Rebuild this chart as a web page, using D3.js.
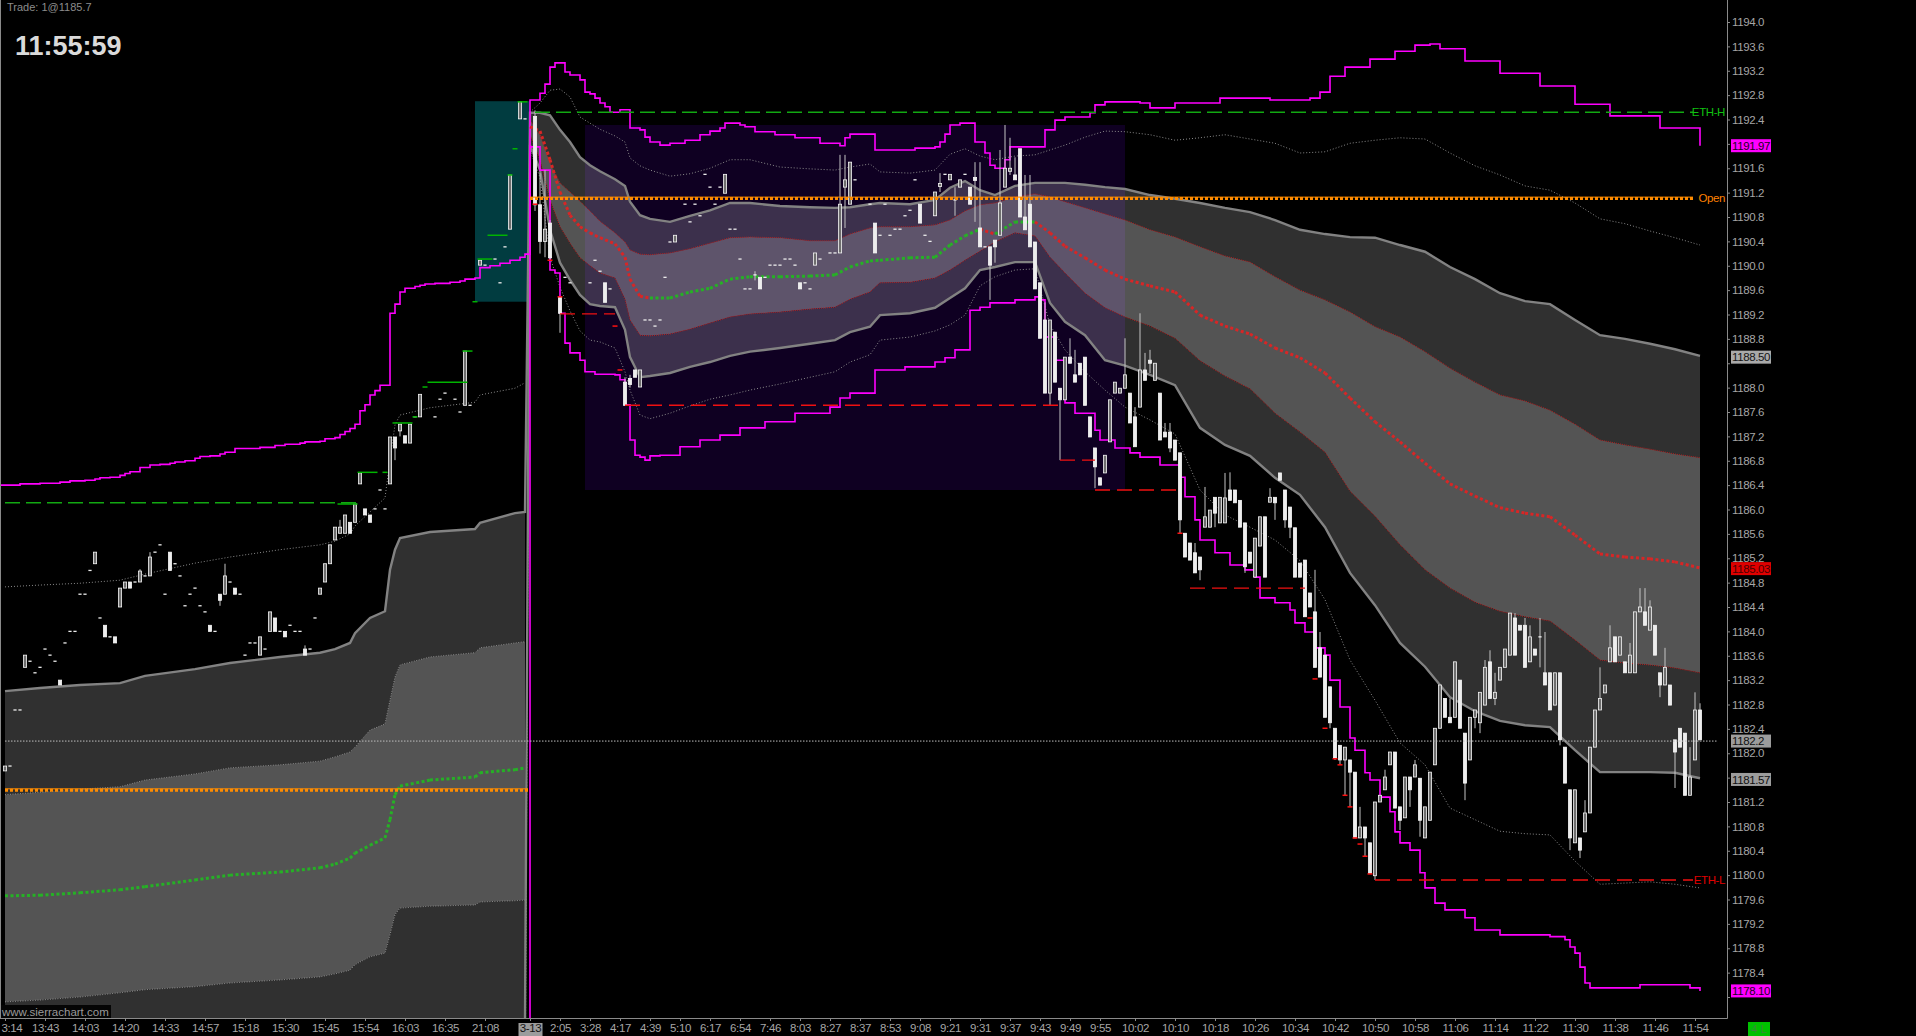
<!DOCTYPE html>
<html><head><meta charset="utf-8">
<script src="https://cdn.jsdelivr.net/npm/d3@7"></script>
<style>
html,body{margin:0;padding:0;background:#000;overflow:hidden}
svg{display:block}
</style></head><body>
<svg id="c" width="1916" height="1036"></svg>
<script>
// ---------------- DATA ----------------
// session 1 (prior day) band samples: bar index + price
const s1Idx   = [1,8,16,24,29,39,46,56,64,67,70,71,74,77,78,79,80,86,95,96,103,105];
const s1Sd3Up = [1184.73,1184.76,1184.79,1184.84,1184.94,1185.12,1185.22,1185.34,1185.42,1185.48,1185.60,1185.73,1185.96,1186.19,1186.81,1187.39,1187.55,1187.67,1187.76,1187.88,1187.99,1188.08];
const s1Sd2Up = [1183.02,1183.07,1183.12,1183.15,1183.27,1183.38,1183.48,1183.58,1183.65,1183.71,1183.81,1183.97,1184.22,1184.33,1185.01,1185.34,1185.53,1185.63,1185.68,1185.78,1185.94,1185.96];
const s1Sd1Up = [1181.32,1181.36,1181.41,1181.45,1181.56,1181.66,1181.76,1181.81,1181.87,1181.94,1182.02,1182.10,1182.38,1182.48,1182.87,1183.25,1183.45,1183.58,1183.65,1183.73,1183.81,1183.83];
const s1Vwap  = [1179.66,1179.67,1179.71,1179.76,1179.81,1179.92,1180.00,1180.05,1180.12,1180.18,1180.28,1180.36,1180.49,1180.61,1180.91,1181.32,1181.46,1181.56,1181.61,1181.68,1181.73,1181.76];
const s1Sd1Lo = [1177.92,1177.95,1178.00,1178.07,1178.12,1178.17,1178.23,1178.28,1178.33,1178.38,1178.44,1178.53,1178.66,1178.72,1179.02,1179.35,1179.46,1179.49,1179.51,1179.56,1179.58,1179.59];
const s1Sd2Lo = [1176.30,1176.30,1176.32,1176.36,1176.38,1176.45,1176.52,1176.55,1176.60,1176.65,1176.74,1176.80,1176.92,1177.00,1177.20,1177.30,1177.38,1177.48,1177.52,1177.55,1177.55,1177.56];
const s1EndSd3Lo = 1175.8, s1EndMagLo = 1175.0;   // below the visible range

// session 2 band samples
const s2Idx   = [106,108,110,112,114,116,118,120,123,125,126,128,130,134,138,142,146,150,156,162,167,170,174,176,182,187,190,193,196,199,203,207,210,213,217,221,225,230,235,240,245,250,255,260,265,270,275,280,285,290,295,300,305,310,315,320,325,330,335,340];
const s2Sd3Up = [1192.52,1192.67,1192.88,1192.90,1192.77,1192.44,1192.34,1192.24,1192.13,1192.03,1191.77,1191.64,1191.57,1191.47,1191.51,1191.60,1191.74,1191.74,1191.62,1191.59,1191.57,1191.62,1191.67,1191.54,1191.52,1191.57,1191.83,1191.92,1191.80,1191.74,1191.80,1191.82,1191.90,1191.98,1192.11,1192.21,1192.20,1192.15,1192.06,1192.10,1192.15,1192.08,1192.01,1191.85,1191.87,1192.01,1192.06,1192.10,1192.08,1191.85,1191.64,1191.49,1191.31,1191.24,1191.03,1190.77,1190.69,1190.57,1190.46,1190.34];
const s2Sd2Up = [1192.51,1192.51,1192.47,1192.23,1192.03,1191.78,1191.65,1191.55,1191.42,1191.31,1191.05,1190.83,1190.77,1190.72,1190.82,1190.91,1191.03,1191.03,1190.98,1190.96,1190.95,1190.96,1191.01,1191.03,1191.01,1191.08,1191.28,1191.39,1191.24,1191.16,1191.31,1191.36,1191.36,1191.36,1191.33,1191.29,1191.26,1191.16,1191.10,1191.03,1190.95,1190.88,1190.75,1190.59,1190.52,1190.47,1190.46,1190.34,1190.23,1189.98,1189.78,1189.55,1189.42,1189.37,1189.11,1188.86,1188.80,1188.72,1188.63,1188.52];
const s2Sd1Up = [1192.39,1192.15,1191.69,1191.36,1191.21,1191.06,1190.90,1190.73,1190.54,1190.39,1190.26,1190.19,1190.18,1190.21,1190.28,1190.37,1190.46,1190.47,1190.46,1190.41,1190.41,1190.52,1190.62,1190.64,1190.64,1190.67,1190.75,1190.90,1191.00,1191.03,1191.13,1191.18,1191.13,1191.05,1190.95,1190.85,1190.75,1190.59,1190.47,1190.31,1190.16,1190.06,1189.82,1189.60,1189.44,1189.24,1189.00,1188.83,1188.59,1188.32,1188.09,1187.88,1187.78,1187.63,1187.40,1187.14,1187.06,1186.99,1186.91,1186.85];
const s2Vwap  = [1192.28,1192.21,1191.74,1191.21,1190.83,1190.64,1190.54,1190.46,1190.36,1190.14,1189.78,1189.50,1189.47,1189.47,1189.57,1189.63,1189.78,1189.82,1189.82,1189.83,1189.85,1189.98,1190.08,1190.09,1190.13,1190.14,1190.34,1190.49,1190.60,1190.52,1190.72,1190.72,1190.54,1190.32,1190.13,1189.93,1189.78,1189.67,1189.57,1189.19,1189.01,1188.88,1188.65,1188.49,1188.24,1187.83,1187.44,1187.11,1186.76,1186.42,1186.22,1186.03,1185.94,1185.88,1185.58,1185.27,1185.22,1185.19,1185.14,1185.04];
const s2Sd1Lo = [1192.15,1191.74,1191.08,1190.64,1190.37,1190.13,1190.00,1189.88,1189.80,1189.45,1189.11,1188.86,1188.85,1188.88,1188.96,1189.06,1189.16,1189.21,1189.24,1189.29,1189.32,1189.45,1189.57,1189.72,1189.73,1189.80,1189.93,1190.09,1190.24,1190.39,1190.54,1190.49,1190.14,1189.88,1189.55,1189.31,1189.16,1189.01,1188.81,1188.44,1188.19,1187.98,1187.58,1187.27,1186.94,1186.30,1185.89,1185.42,1185.01,1184.71,1184.48,1184.33,1184.24,1184.17,1183.86,1183.53,1183.48,1183.45,1183.40,1183.32];
const s2Sd2Lo = [1191.98,1191.57,1190.59,1190.05,1189.77,1189.52,1189.37,1189.34,1189.32,1188.95,1188.50,1188.17,1188.19,1188.24,1188.34,1188.42,1188.52,1188.59,1188.65,1188.72,1188.78,1188.91,1189.00,1189.19,1189.22,1189.31,1189.47,1189.63,1189.93,1189.98,1190.06,1190.06,1189.39,1189.08,1188.86,1188.45,1188.36,1188.21,1188.04,1187.34,1187.06,1186.88,1186.52,1186.24,1185.71,1184.96,1184.43,1183.81,1183.42,1182.92,1182.69,1182.53,1182.46,1182.43,1182.05,1181.69,1181.69,1181.69,1181.68,1181.59];
const s2Sd3Lo = [1191.90,1191.45,1190.14,1189.65,1189.26,1188.93,1188.78,1188.75,1188.65,1188.26,1187.96,1187.55,1187.49,1187.58,1187.70,1187.81,1187.88,1187.96,1188.06,1188.17,1188.26,1188.42,1188.54,1188.78,1188.83,1188.93,1189.03,1189.19,1189.67,1189.82,1189.93,1189.95,1189.03,1188.62,1188.26,1187.96,1187.68,1187.47,1187.24,1186.32,1185.91,1185.71,1185.50,1185.16,1184.52,1183.53,1182.87,1182.17,1181.81,1181.10,1180.91,1180.72,1180.68,1180.66,1180.23,1179.85,1179.87,1179.89,1179.85,1179.79];

// magenta outer envelopes (step lines): [bar, price]
const magUp1 = [[0,1186.40],[4,1186.42],[8,1186.43],[12,1186.45],[14,1186.47],[17,1186.48],[19,1186.50],[20,1186.52],[22,1186.53],[24,1186.56],[25,1186.59],[26,1186.62],[28,1186.69],[30,1186.73],[32,1186.74],[34,1186.76],[35,1186.78],[37,1186.80],[39,1186.84],[40,1186.87],[42,1186.88],[44,1186.91],[45,1186.94],[47,1187.00],[52,1187.02],[55,1187.05],[57,1187.07],[60,1187.09],[61,1187.11],[64,1187.12],[65,1187.16],[67,1187.18],[68,1187.23],[69,1187.28],[70,1187.33],[71,1187.40],[72,1187.62],[73,1187.72],[74,1187.88],[75,1187.95],[76,1188.04],[78,1189.22],[79,1189.37],[80,1189.57],[81,1189.63],[83,1189.66],[84,1189.68],[85,1189.70],[87,1189.71],[90,1189.73],[92,1189.75],[93,1189.78],[95,1189.80],[96,1189.97],[98,1190.00],[100,1190.04],[102,1190.09],[104,1190.14],[105,1190.19]];
const magUp2 = [[106,1192.72],[108,1192.83],[109,1192.98],[110,1193.26],[111,1193.33],[113,1193.18],[114,1193.13],[116,1193.05],[117,1192.85],[118,1192.82],[119,1192.75],[120,1192.67],[121,1192.61],[122,1192.52],[124,1192.56],[126,1192.26],[128,1192.23],[129,1192.11],[130,1192.03],[132,1191.98],[134,1192.01],[137,1192.06],[140,1192.15],[142,1192.21],[144,1192.26],[145,1192.34],[148,1192.31],[149,1192.28],[151,1192.20],[155,1192.15],[159,1192.10],[164,1192.01],[168,1191.97],[169,1192.10],[170,1192.16],[175,1191.90],[183,1191.93],[187,1191.95],[188,1192.03],[189,1192.16],[190,1192.31],[192,1192.34],[195,1192.03],[197,1191.85],[198,1191.65],[199,1191.60],[201,1191.74],[202,1191.95],[209,1192.23],[211,1192.39],[213,1192.44],[218,1192.51],[219,1192.64],[221,1192.69],[228,1192.67],[230,1192.59],[235,1192.67],[244,1192.75],[254,1192.72],[262,1192.75],[264,1192.85],[266,1193.11],[269,1193.26],[274,1193.39],[279,1193.52],[283,1193.62],[286,1193.64],[288,1193.56],[293,1193.36],[300,1193.16],[308,1192.95],[315,1192.65],[322,1192.46],[332,1192.26],[340,1191.97]];
const magLo2 = [[106,1191.95],[108,1191.57],[110,1189.93],[111,1189.88],[112,1189.22],[113,1188.73],[114,1188.57],[116,1188.45],[117,1188.26],[119,1188.22],[123,1188.21],[124,1188.13],[125,1187.72],[126,1187.14],[127,1186.89],[128,1186.86],[129,1186.81],[130,1186.88],[132,1186.89],[136,1187.03],[140,1187.14],[144,1187.22],[148,1187.34],[153,1187.44],[159,1187.58],[166,1187.68],[168,1187.83],[170,1187.91],[175,1188.29],[181,1188.34],[187,1188.42],[189,1188.49],[191,1188.62],[194,1189.27],[196,1189.32],[198,1189.39],[203,1189.44],[207,1189.49],[208,1189.44],[209,1188.83],[211,1188.45],[213,1187.75],[215,1187.58],[219,1187.30],[220,1187.14],[223,1187.01],[226,1186.93],[228,1186.86],[232,1186.73],[236,1186.53],[237,1186.21],[239,1185.83],[240,1185.50],[243,1185.29],[246,1185.09],[249,1185.01],[251,1184.89],[252,1184.55],[255,1184.47],[258,1184.35],[259,1184.14],[261,1183.99],[263,1183.73],[265,1183.61],[266,1183.20],[268,1182.76],[270,1182.25],[271,1182.05],[273,1181.68],[274,1181.56],[276,1181.28],[278,1181.04],[279,1180.71],[280,1180.53],[282,1180.41],[284,1180.04],[285,1179.79],[287,1179.54],[289,1179.43],[293,1179.30],[295,1179.10],[300,1179.02],[310,1178.99],[313,1178.94],[314,1178.82],[315,1178.72],[316,1178.49],[317,1178.23],[318,1178.15],[322,1178.15],[328,1178.20],[334,1178.20],[338,1178.15],[340,1178.10]];

// candles: [bar, price] = flat bar, [bar, open, close], or [bar, open, high, low, close]
const candles = [
[1,1181.71,1181.79],[2,1181.79],[3,1182.71],[4,1182.71],[5,1183.41,1183.61],[6,1183.51],[7,1183.32],[8,1183.41],[9,1183.71],[10,1183.61],[11,1183.51],[12,1183.20,1183.12],[13,1183.81],[14,1184.00],[15,1184.00],[16,1184.61],[17,1184.61],[18,1185.00],[19,1185.11,1185.30],[20,1184.22],[21,1184.10,1183.91],[22,1183.91],[23,1183.91,1183.81],[24,1184.40,1184.71],[25,1184.71,1184.81],[26,1184.81,1184.71],[27,1184.81],[28,1184.81,1185.02,1184.81,1184.99],[29,1184.91],[30,1184.91,1185.30,1184.91,1185.22],[31,1185.30],[32,1185.42],[33,1184.61],[34,1185.30,1185.00],[35,1185.11],[36,1184.91],[37,1184.42],[38,1184.61],[39,1184.71],[40,1184.42],[41,1184.32],[42,1184.10,1184.00],[43,1184.00],[44,1184.61,1184.61,1184.42,1184.51],[45,1184.61,1185.11,1184.61,1184.91],[46,1184.81],[47,1184.71,1184.61],[48,1184.61],[49,1183.61],[50,1183.81],[51,1183.81],[52,1183.61,1183.91],[53,1183.71],[54,1184.00,1184.32],[55,1184.22,1184.00],[56,1184.00],[57,1184.00,1183.91],[58,1184.10],[59,1184.00],[60,1184.00],[61,1183.71,1183.77,1183.61,1183.61],[62,1183.71],[63,1184.22],[64,1184.61,1184.71],[65,1184.81,1185.11],[66,1185.11,1185.42],[67,1185.50,1185.71],[68,1185.61,1185.83,1185.61,1185.71],[69,1185.61,1185.91],[70,1185.79,1185.61],[71,1185.79,1186.09],[72,1186.42,1186.60],[73,1186.01,1185.91],[74,1185.91,1185.79],[75,1186.01],[76,1186.32],[77,1186.01],[78,1186.42,1187.19],[79,1187.19,1187.19,1186.81,1187.01],[80,1187.29,1187.40,1187.20,1187.40],[81,1187.21,1187.09],[82,1187.09,1187.40],[83,1187.52],[84,1187.52,1187.89],[87,1187.52],[88,1187.81],[89,1187.91],[91,1187.81],[92,1187.60],[93,1187.71,1188.60],[94,1187.71],[96,1190.01,1190.09],[97,1190.01],[99,1190.11],[100,1189.72],[101,1190.31],[102,1190.60,1191.49],[104,1192.41,1192.69],[105,1192.41],
[107,1192.45,1192.55,1190.90,1191.00],[108,1191.00,1191.52,1190.20,1190.40],[109,1190.40,1191.57,1190.14,1190.60],[110,1190.70,1190.75,1190.09,1190.13],[112,1189.49,1189.49,1188.90,1189.22],[113,1189.81],[114,1189.72],[118,1189.72],[119,1190.09],[120,1189.91],[121,1189.72,1189.40],[122,1189.62],
[125,1188.09,1188.17,1187.71,1187.71],[126,1188.15,1188.21,1188.00,1188.05],[127,1188.29,1188.17],[128,1188.01,1188.29],[129,1189.11],[130,1189.11],[131,1189.01],[132,1189.11],[133,1189.81],[134,1190.39],[135,1190.39,1190.50],[137,1191.01],[138,1190.72],[139,1191.01],[140,1190.82],[141,1191.50],[142,1191.29],[143,1191.01],[144,1191.29],[145,1191.19,1191.50],[146,1190.60],[147,1190.60],[148,1190.11],[149,1189.62],[150,1189.62],[151,1189.85,1189.91,1189.76,1189.85],[152,1189.81,1189.62],[153,1189.81],[154,1190.01],[155,1190.01],[156,1190.01],[157,1190.11],[158,1190.11],[159,1190.01],[160,1189.72,1189.62],[161,1189.72],[162,1189.62],[163,1190.01,1190.21],[164,1190.11],[166,1190.21],[167,1190.21],[168,1190.21,1191.82,1190.21,1191.01],[169,1191.29,1191.82,1190.62,1191.41],[170,1191.01,1191.70],[171,1191.41],[174,1191.01],[175,1190.70,1190.21],[176,1190.50],[177,1191.01],[178,1190.50],[179,1190.60],[180,1190.60],[181,1190.82],[182,1190.91],[183,1191.41],[184,1191.01,1190.70],[185,1190.50],[186,1190.40],[187,1190.82,1191.21],[188,1191.30,1191.52,1191.21,1191.35],[189,1191.50],[190,1191.41,1191.50],[191,1191.08,1191.29,1190.82,1191.08],[192,1191.29,1191.41],[193,1191.50],[194,1191.29,1191.01],[195,1191.45,1191.70,1190.72,1191.40],[196,1190.62,1191.70,1190.31,1190.31],[197,1190.31],[198,1190.31,1190.31,1189.44,1190.01],[199,1190.42,1190.42,1190.05,1190.31],[200,1190.50,1191.90,1190.50,1191.03],[201,1191.29,1192.31,1191.29,1191.60],[202,1191.55,1192.10,1191.49,1191.60],[203,1191.49,1191.78,1191.41,1191.41],[204,1191.92,1190.80],[205,1190.80,1191.49,1190.59,1190.59],[206,1191.01,1191.49,1190.31,1190.31],[207,1190.39,1189.62],[208,1189.72,1188.81],[209,1189.11,1189.40,1187.91,1187.91],[210,1187.91,1189.11,1187.71,1189.11],[211,1188.91,1188.09],[212,1187.99,1187.99,1186.81,1187.80],[213,1187.80,1188.50],[214,1188.50,1188.81,1188.40,1188.40],[215,1188.21,1188.62,1188.09,1188.09],[216,1188.40,1188.21],[217,1188.50,1187.71],[218,1187.52,1187.19],[219,1187.01,1187.01,1186.35,1186.70],[220,1186.52,1186.40],[221,1186.60,1186.89],[222,1187.11,1187.80],[223,1187.91,1188.09],[224,1187.91,1187.99],[225,1187.99,1188.81,1187.99,1188.21],[226,1187.91,1187.42],[227,1187.52,1187.68,1187.03,1187.03],
[228,1187.68,1189.22,1187.68,1188.29],[229,1188.29,1188.57,1188.12,1188.12],[230,1188.45,1188.62,1188.24,1188.40],[231,1188.12,1188.40],[232,1187.91,1187.14],[233,1187.27,1187.42,1187.19,1187.19],[234,1187.27,1187.42,1186.94,1187.01],[235,1187.14,1186.81],[236,1186.93,1186.93,1185.61,1185.83],[237,1185.61,1185.22],[238,1185.45,1185.17],[239,1185.29,1185.45,1184.96,1184.96],[240,1185.22,1185.22,1184.84,1185.01],[241,1185.71,1186.37,1185.71,1185.88],[242,1185.71,1185.99],[243,1186.20,1186.20,1185.71,1185.94],[244,1185.78,1186.20],[245,1185.78,1186.60,1185.78,1186.19],[246,1186.32,1186.61,1186.15,1186.15],[247,1186.32,1186.11],[248,1186.15,1185.71],[249,1185.78,1185.78,1184.96,1185.06],[250,1185.30,1185.12],[251,1184.89,1185.53],[252,1185.40,1185.88],[253,1185.88,1184.89],[254,1186.12,1186.35,1186.12,1186.20],[255,1186.20,1186.20,1185.83,1186.11],[256,1186.60,1186.48],[257,1186.32,1186.32,1185.70,1185.83],[258,1186.04,1186.04,1185.53,1185.71],[259,1185.70,1184.89],[260,1185.12,1184.89],
[261,1185.17,1184.24],[262,1184.63,1184.40],[263,1184.32,1185.01,1183.41,1183.41],[264,1183.73,1183.99,1183.25,1183.25],[265,1183.61,1182.59],[266,1183.09,1183.09,1182.41,1182.50],[267,1182.41,1182.41,1181.89,1181.92],[268,1182.13,1182.13,1181.81,1181.89],[269,1181.89,1182.10,1181.31,1182.10],[270,1181.89,1181.89,1181.12,1181.69],[271,1181.69,1180.61],[272,1180.61,1181.12,1180.61,1180.79],[273,1180.79,1180.79,1180.30,1180.61],[274,1180.53,1180.03],[275,1179.99,1181.20,1179.92,1181.20],[276,1181.20,1181.31],[277,1181.40,1181.73,1181.40,1181.61],[278,1181.81,1182.02],[279,1182.02,1181.10],[280,1181.12,1181.12,1180.74,1180.90],[281,1180.94,1181.61],[282,1181.61,1181.61,1181.12,1181.40],[283,1181.61,1181.89,1181.61,1181.81],[284,1181.59,1181.59,1180.63,1180.90],[285,1180.61,1181.12],[286,1180.90,1181.69],[287,1181.81,1182.41],[288,1182.41,1183.12],[289,1182.90,1182.59],[290,1182.59,1182.90,1182.50,1182.50],[291,1182.59,1183.50],[292,1183.20,1182.41],[293,1182.33,1182.33,1181.23,1181.51],[294,1181.89,1182.59],[295,1182.59,1182.71,1182.41,1182.71],[296,1182.50,1183.00,1182.33,1183.00],[297,1182.79,1183.53,1182.79,1183.41],[298,1183.50,1183.69,1182.90,1182.90],[299,1182.90,1183.32,1182.79,1183.00],[300,1183.20,1183.41],[301,1183.41,1183.71],[302,1183.61,1184.30],[303,1184.22,1184.30,1183.61,1183.61],[304,1184.10,1184.02],[305,1184.10,1184.22,1183.41,1183.41],[306,1183.50,1184.10,1183.50,1183.91],[307,1183.71,1183.61],[308,1183.91,1184.22,1183.41,1183.91],[309,1183.32,1183.99,1183.12,1183.12],[310,1183.32,1182.71],[311,1182.79,1183.32],[312,1183.32,1183.32,1182.13,1182.22],[313,1182.10,1181.51],[314,1181.40,1181.40,1180.41,1180.61],[315,1180.53,1181.40],[316,1180.61,1180.61,1180.28,1180.41],[317,1180.71,1181.23,1180.71,1181.02],[318,1181.02,1182.10],[319,1182.10,1182.71],[320,1182.71,1183.41,1182.71,1182.90],[321,1182.99,1183.12],[322,1183.50,1184.10,1183.50,1183.73],[323,1183.91,1183.50],[324,1183.61,1183.91],[325,1183.50,1183.32],[326,1183.32,1183.81,1183.32,1183.61],[327,1183.32,1184.32],[328,1184.32,1184.71,1184.32,1184.40],[329,1184.32,1184.71,1184.10,1184.10],[330,1184.02,1184.51,1184.02,1184.40],[331,1184.10,1183.61],[332,1183.32,1183.32,1182.92,1183.12],[333,1183.12,1183.73,1183.12,1183.41],[334,1183.12,1182.79],[335,1182.22,1182.22,1181.43,1182.02],[336,1182.41,1182.10],[337,1182.33,1181.31],[338,1181.31,1182.10,1181.31,1181.61],[339,1181.89,1183.00,1181.89,1182.71],[340,1182.71,1182.82,1182.22,1182.22]
];

// short new-high (green) / new-low (red) markers
const greenMarks = [[68,71,1186.09],[72,75,1186.61],[77,77,1186.61],[79,82,1187.42],[83,83,1187.52],[85,85,1188.01],[86,93,1188.09],[93,94,1188.60],[95,95,1189.41],[96,98,1190.11],[98,101,1190.50],[102,102,1191.49],[103,103,1191.92],[104,105,1192.69]];
const redMarks = [[107,1191.01],[110,1190.09],[112,1189.49],[123,1189.01],[124,1188.29],[236,1185.61],[262,1184.22],[263,1183.22],[265,1182.41],[267,1181.91],[268,1181.81],[269,1181.31],[270,1181.12],[271,1180.61],[272,1180.51],[273,1180.31],[274,1180.02]];

// horizontal levels
const levelPrice = [1192.52,1191.11,1179.92,1182.20,1181.40,1186.11,1189.21,1187.71,1186.81,1186.32,1184.71];
const levelFrom  = [107,106,275,1,1,1,112,125,212,219,238];
const levelTo    = [338.6,338.6,338.6,343.6,105.6,71.4,123,212,219,236,261];
const levelKind  = ['green','orange','red','gray','orange','green','red','red','red','red','red'];
const levelLabel = ['ETH-H','Open','ETH-L','','','','','','','',''];

// shaded boxes: [bar from, bar to, price top, price bottom]
const tealBox   = [95,106,1192.70,1189.41];
const purpleBox = [117,225,1192.31,1186.32];

// axes
const yTickValues = [1178.0,1178.4,1178.8,1179.2,1179.6,1180.0,1180.4,1180.8,1181.2,1181.6,1182.0,1182.4,1182.8,1183.2,1183.6,1184.0,1184.4,1184.8,1185.2,1185.6,1186.0,1186.4,1186.8,1187.2,1187.6,1188.0,1188.4,1188.8,1189.2,1189.6,1190.0,1190.4,1190.8,1191.2,1191.6,1192.0,1192.4,1192.8,1193.2,1193.6,1194.0];
const xTickIdx  = [1,9,17,25,33,41,49,57,65,73,81,89,97,106,112,118,124,130,136,142,148,154,160,166,172,178,184,190,196,202,208,214,220,227,235,243,251,259,267,275,283,291,299,307,315,323,331,339];
const xTickText = ['3:14','13:43','14:03','14:20','14:33','14:57','15:18','15:30','15:45','15:54','16:03','16:35','21:08','3-13','2:05','3:28','4:17','4:39','5:10','6:17','6:54','7:46','8:03','8:27','8:37','8:53','9:08','9:21','9:31','9:37','9:43','9:49','9:55','10:02','10:10','10:18','10:26','10:34','10:42','10:50','10:58','11:06','11:14','11:22','11:30','11:38','11:46','11:54'];
const axisBoxPrice = [1191.97,1188.50,1185.03,1182.2,1181.57,1178.10];
const axisBoxText  = ['1191.97','1188.50','1185.03','1182.2','1181.57','1178.10'];
const axisBoxColor = ['#ff00ff','#a9a9a9','#e00000','#9c9c9c','#9c9c9c','#ff00ff'];
const axisBoxInk   = ['#1a001a','#151515','#4a0000','#101010','#101010','#1a001a'];

// ---------------- DRAW ----------------
const W=1916,H=1036, plotR=1727, plotB=1018;
const FONT="'Liberation Sans',Arial,sans-serif";
const FS='11.5px', LS='-0.4px';
const x=d3.scaleLinear().domain([0,340]).range([0,1700]);
const y=d3.scaleLinear().domain([1178,1194]).range([997,22]);
const svg=d3.select('#c');
svg.append('rect').attr('width',W).attr('height',H).attr('fill','#000');
svg.append('defs').append('clipPath').attr('id','plot').append('rect')
  .attr('x',0).attr('y',0).attr('width',plotR).attr('height',plotB);
const g=svg.append('g').attr('clip-path','url(#plot)');

function rows(idx,cols){return idx.map((i,k)=>{const o={i};for(const key in cols)o[key]=cols[key][k];return o;});}
const S1=rows(s1Idx,{a:s1Sd3Up,b:s1Sd2Up,c:s1Sd1Up,v:s1Vwap,d:s1Sd1Lo,e:s1Sd2Lo});
const S2=rows(s2Idx,{a:s2Sd3Up,b:s2Sd2Up,c:s2Sd1Up,v:s2Vwap,d:s2Sd1Lo,e:s2Sd2Lo,f:s2Sd3Lo});

// teal box
g.append('rect').attr('x',x(tealBox[0])).attr('width',x(tealBox[1])-x(tealBox[0]))
  .attr('y',y(tealBox[2])).attr('height',y(tealBox[3])-y(tealBox[2])).attr('fill','#013c40');

const band=(lo,hi)=>d3.area().x(d=>x(d.i)).y0(d=>y(d[lo])).y1(d=>y(d[hi]));
[S1,S2].forEach(S=>{
  g.append('path').datum(S).attr('d',band('c','b')).attr('fill','#303030');
  g.append('path').datum(S).attr('d',band('d','c')).attr('fill','#545454');
  g.append('path').datum(S).attr('d',band('e','d')).attr('fill','#303030');
});

// purple range box (screen blended over the bands)
g.append('rect').attr('x',x(purpleBox[0])).attr('width',x(purpleBox[1])-x(purpleBox[0]))
  .attr('y',y(purpleBox[2])).attr('height',y(purpleBox[3])-y(purpleBox[2]))
  .attr('fill','#0f0022').style('mix-blend-mode','screen');

const line=(key)=>d3.line().x(d=>x(d.i)).y(d=>y(d[key]));
// std-dev 3 dotted
g.append('path').datum(S1).attr('d',line('a')).attr('fill','none').attr('stroke','#8a8a8a').attr('stroke-width',1).attr('stroke-dasharray','1,2');
g.append('path').datum(S2).attr('d',line('a')).attr('fill','none').attr('stroke','#8a8a8a').attr('stroke-width',1).attr('stroke-dasharray','1,2');
const lo3=[{i:s1Idx[s1Idx.length-1],f:s1EndSd3Lo}].concat(S2);
g.append('path').datum(lo3).attr('d',line('f')).attr('fill','none').attr('stroke','#8a8a8a').attr('stroke-width',1).attr('stroke-dasharray','1,2');
// std-dev 1 edges
['c','d'].forEach(k=>{
  g.append('path').datum(S1).attr('d',line(k)).attr('fill','none').attr('stroke','#8e8e8e').attr('stroke-width',1).attr('stroke-dasharray','1,1.5');
  g.append('path').datum(S2).attr('d',line(k)).attr('fill','none').attr('stroke','#b42222').attr('stroke-width',1).attr('stroke-dasharray','1,1');
});
// std-dev 2 thick
const S12=S1.concat(S2);
['b','e'].forEach(k=>{
  g.append('path').datum(S12).attr('d',line(k)).attr('fill','none').attr('stroke','#828282').attr('stroke-width',2.4);
});
// magenta envelopes
const stepLine=d3.line().x(d=>x(d[0])).y(d=>y(d[1])).curve(d3.curveStepAfter);
g.append('path').datum(magUp1.concat(magUp2)).attr('d',stepLine).attr('fill','none').attr('stroke','#ff00ff').attr('stroke-width',1.6);
g.append('path').datum([[s1Idx[s1Idx.length-1],s1EndMagLo]].concat(magLo2)).attr('d',stepLine).attr('fill','none').attr('stroke','#ff00ff').attr('stroke-width',1.6);
// VWAP: coloured by slope, square dots
[S1,S2].forEach(S=>{
  for(let k=0;k<S.length-1;k++){
    const up=S[k+1].v>=S[k].v;
    g.append('line').attr('x1',x(S[k].i)).attr('y1',y(S[k].v)).attr('x2',x(S[k+1].i)).attr('y2',y(S[k+1].v))
      .attr('stroke',up?'#26b026':'#d82626').attr('stroke-width',3).attr('stroke-dasharray','3,2.5');
  }
});

// candles
const cg=g.append('g');
candles.forEach(c=>{
  let o,h,l,cl;
  if(c.length===2){o=h=l=cl=c[1];}
  else if(c.length===3){o=c[1];cl=c[2];h=Math.max(o,cl);l=Math.min(o,cl);}
  else {o=c[1];h=c[2];l=c[3];cl=c[4];}
  const cx=x(c[0]);
  if(h>l) cg.append('line').attr('x1',cx).attr('x2',cx).attr('y1',y(h)).attr('y2',y(l)).attr('stroke','#c4c4c4').attr('stroke-width',1);
  const top=y(Math.max(o,cl)), bh=Math.max(1.3,Math.abs(y(o)-y(cl)));
  const upC=cl>o;
  cg.append('rect').attr('x',cx-1.6).attr('width',3.2).attr('y',top-(bh<1.5?0.65:0)).attr('height',bh)
    .attr('fill',upC?'#6e6e6e':'#ededed').attr('stroke',bh>2?'#f4f4f4':'none').attr('stroke-width',0.8);
});
greenMarks.forEach(m=>{
  g.append('line').attr('x1',x(m[0])-2.5).attr('x2',x(m[1])+2.5).attr('y1',y(m[2])).attr('y2',y(m[2]))
    .attr('stroke','#00b400').attr('stroke-width',1.5);
});
redMarks.forEach(m=>{
  g.append('line').attr('x1',x(m[0])-2.5).attr('x2',x(m[0])+2.5).attr('y1',y(m[1])).attr('y2',y(m[1]))
    .attr('stroke','#ff1010').attr('stroke-width',1.5);
});

// horizontal levels
levelPrice.forEach((p,k)=>{
  const kind=levelKind[k], yy=y(p), x0=x(levelFrom[k]), x1=x(levelTo[k]);
  if(kind==='orange'){
    g.append('line').attr('x1',x0).attr('x2',x1).attr('y1',yy-1).attr('y2',yy-1).attr('stroke','#ff8c00').attr('stroke-width',1);
    g.append('line').attr('x1',x0).attr('x2',x1).attr('y1',yy+0.5).attr('y2',yy+0.5).attr('stroke','#ff8c00').attr('stroke-width',3).attr('stroke-dasharray','3,2');
  } else if(kind==='green'){
    g.append('line').attr('x1',x0).attr('x2',x1).attr('y1',yy).attr('y2',yy).attr('stroke','#12a812').attr('stroke-width',1.4).attr('stroke-dasharray','15,6');
  } else if(kind==='red'){
    g.append('line').attr('x1',x0).attr('x2',x1).attr('y1',yy).attr('y2',yy).attr('stroke','#f01010').attr('stroke-width',1.4).attr('stroke-dasharray','15,7');
  } else {
    g.append('line').attr('x1',x0).attr('x2',x1).attr('y1',yy).attr('y2',yy).attr('stroke','#bdbdbd').attr('stroke-width',1).attr('stroke-dasharray','1.5,1.5');
  }
  if(levelLabel[k]){
    svg.append('text').attr('x',1725).attr('y',yy).attr('dy','0.35em').attr('text-anchor','end')
      .attr('fill',kind==='green'?'#10c010':kind==='red'?'#e00000':'#ff8000')
      .style('font-family',FONT).style('font-size',FS).style('letter-spacing',LS).text(levelLabel[k]);
  }
});

// frame lines
svg.append('line').attr('x1',0.5).attr('x2',0.5).attr('y1',0).attr('y2',plotB).attr('stroke','#8a8a8a');
svg.append('line').attr('x1',plotR+0.5).attr('x2',plotR+0.5).attr('y1',0).attr('y2',plotB+0.5).attr('stroke','#8a8a8a');
svg.append('line').attr('x1',0).attr('x2',plotR+0.5).attr('y1',plotB+0.5).attr('y2',plotB+0.5).attr('stroke','#8a8a8a');

// right axis
const ya=svg.append('g').attr('transform',`translate(${plotR},0)`)
  .call(d3.axisRight(y).tickValues(yTickValues).tickFormat(d3.format('.1f')).tickSize(3).tickPadding(2));
ya.select('.domain').remove();
ya.selectAll('line').attr('stroke','#8a8a8a');
ya.selectAll('text').attr('fill','#a6a6a6').style('font-family',FONT).style('font-size',FS).style('letter-spacing',LS);
// labels hidden under a current-value box
ya.selectAll('.tick').filter(d=>axisBoxPrice.some(p=>Math.abs(y(p)-y(d))<8)).select('text').remove();

axisBoxPrice.forEach((p,k)=>{
  const yy=y(p);
  svg.append('rect').attr('x',plotR+4).attr('y',yy-6.5).attr('width',40).attr('height',13).attr('fill',axisBoxColor[k]);
  svg.append('text').attr('x',plotR+5).attr('y',yy).attr('dy','0.36em').attr('fill',axisBoxInk[k])
    .style('font-family',FONT).style('font-size',FS).style('letter-spacing',LS).text(axisBoxText[k]);
});

// bottom axis
const xa=svg.append('g').attr('transform',`translate(0,${plotB})`)
  .call(d3.axisBottom(x).tickValues(xTickIdx).tickFormat((d,k)=>xTickText[k]).tickSize(3).tickPadding(3));
xa.select('.domain').remove();
xa.selectAll('line').attr('stroke','#8a8a8a');
xa.selectAll('text').attr('fill','#a6a6a6').style('font-family',FONT).style('font-size',FS).style('letter-spacing',LS);
xa.selectAll('.tick').filter((d,k)=>k===0).select('text').attr('text-anchor','start').attr('x',-4);
xa.selectAll('.tick').filter((d,k)=>xTickText[k]==='3-13').each(function(){
  const t=d3.select(this);
  t.insert('rect','text').attr('x',-12).attr('y',5).attr('width',24).attr('height',13).attr('fill','#9c9c9c');
  t.select('text').attr('fill','#151515');
});

// status box bottom right
svg.append('rect').attr('x',1748).attr('y',1022).attr('width',22).attr('height',14).attr('fill','#00c000');
svg.append('text').attr('x',1759).attr('y',1033).attr('text-anchor','middle').attr('fill','#3a8a3a')
  .style('font-family',FONT).style('font-size',FS).text('4 L');

// watermark
svg.append('rect').attr('x',1).attr('y',1005).attr('width',110).attr('height',13).attr('fill','#050505');
svg.append('text').attr('x',2).attr('y',1015.5).attr('fill','#9a9a9a')
  .style('font-family',FONT).style('font-size','11.5px').text('www.sierrachart.com');

// header texts
svg.append('text').attr('x',7).attr('y',11).attr('fill','#8c8c8c')
  .style('font-family',FONT).style('font-size','11px').text('Trade: 1@1185.7');
svg.append('text').attr('x',15).attr('y',55).attr('fill','#dadada')
  .style('font-family',FONT).style('font-weight','bold').style('font-size','27px').text('11:55:59');
</script></body></html>
